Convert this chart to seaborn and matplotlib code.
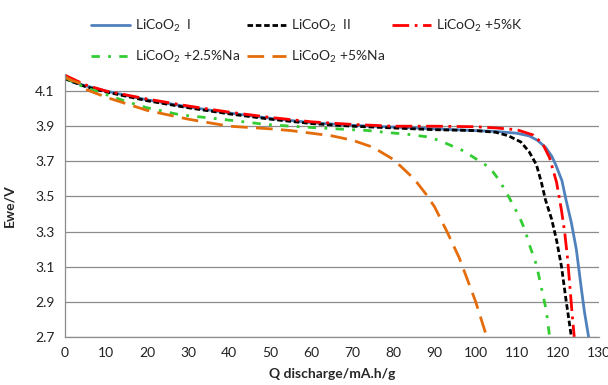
import numpy as np
import pandas as pd
import matplotlib
matplotlib.use("Agg")
import matplotlib.pyplot as plt
import seaborn as sns

# discharge curves (Q in mA.h/g, Ewe in V)
q_I = [0, 2, 5, 10, 20, 30, 40, 50, 60, 70, 80, 90, 100, 105, 110, 113, 115, 117,
       118.5, 119.5, 121, 122, 123.3, 124.5, 125.7, 126.5, 127.5]
v_I = [4.18, 4.15, 4.13, 4.10, 4.05, 4.01, 3.975, 3.945, 3.92, 3.905, 3.895, 3.885,
       3.875, 3.87, 3.86, 3.845, 3.82, 3.78, 3.73, 3.68, 3.59, 3.48, 3.35, 3.20,
       2.98, 2.84, 2.70]

q_II = [0, 5, 10, 20, 30, 40, 50, 60, 70, 80, 90, 100, 105, 108, 111, 113, 114.8,
        116, 117, 118.5, 119.7, 120.9, 122, 123.3]
v_II = [4.17, 4.125, 4.095, 4.045, 4.005, 3.97, 3.94, 3.915, 3.90, 3.89, 3.88,
        3.875, 3.865, 3.845, 3.81, 3.755, 3.68, 3.58, 3.48, 3.37, 3.25, 3.10, 2.91,
        2.70]

q_K = [0, 5, 10, 20, 30, 40, 50, 60, 70, 80, 90, 100, 105, 110, 114, 116.3, 118,
       119.7, 120.9, 121.7, 122.4, 123, 123.6, 124]
v_K = [4.19, 4.135, 4.10, 4.055, 4.015, 3.98, 3.95, 3.925, 3.91, 3.90, 3.90, 3.897,
       3.89, 3.88, 3.85, 3.80, 3.72, 3.58, 3.42, 3.29, 3.14, 2.97, 2.80, 2.70]

q_Na25 = [0, 2, 5, 10, 15, 20, 28, 38, 49, 55, 62, 66, 74, 78, 83, 88, 91, 94, 97,
          99, 101, 103.4, 105.8, 108, 110.7, 112, 113, 114.8, 116, 117.2, 118]
v_Na25 = [4.18, 4.15, 4.12, 4.08, 4.04, 4.005, 3.965, 3.94, 3.91, 3.90, 3.89, 3.885,
          3.875, 3.865, 3.855, 3.84, 3.82, 3.79, 3.76, 3.73, 3.70, 3.665, 3.59, 3.50,
          3.38, 3.31, 3.23, 3.11, 2.98, 2.85, 2.70]

q_Na5 = [0, 1.7, 3.6, 5, 10, 20, 30, 40, 50, 55, 60, 65, 70, 75, 80, 85, 88, 90,
         93, 96, 100, 102.7]
v_Na5 = [4.18, 4.16, 4.145, 4.11, 4.065, 3.99, 3.94, 3.90, 3.885, 3.875, 3.86,
         3.845, 3.82, 3.78, 3.71, 3.60, 3.51, 3.44, 3.30, 3.15, 2.90, 2.70]

labels = ["LiCoO$_2$  I", "LiCoO$_2$  II", "LiCoO$_2$ +5%K",
          "LiCoO$_2$ +2.5%Na", "LiCoO$_2$ +5%Na"]
series = [(q_I, v_I), (q_II, v_II), (q_K, v_K), (q_Na25, v_Na25), (q_Na5, v_Na5)]
colors = ["#4F81BD", "#000000", "#FF0000", "#33CC33", "#E46C0A"]
styles = ["-", (0, (2, 1)), (0, (6, 2, 1, 2)), (0, (3, 3, 1, 3)), (0, (6, 3))]

sns.set_style("white")
plt.rcParams["font.family"] = ["Lato", "DejaVu Sans"]
plt.rcParams["mathtext.default"] = "regular"

fig = plt.figure(figsize=(6.08, 3.85), dpi=100)
ax = fig.add_axes([0.107, 0.125, 0.878, 0.684])

for (q, v), lab, c, ls in zip(series, labels, colors, styles):
    df = pd.DataFrame({"q": q, "v": v})
    sns.lineplot(data=df, x="q", y="v", ax=ax, color=c, linestyle=ls, lw=2,
                 label=lab, estimator=None, sort=False)

ax.set_xlim(0, 130)
ax.set_ylim(2.7, 4.2)
ax.set_xticks(np.arange(0, 131, 10))
ax.set_yticks([2.7, 2.9, 3.1, 3.3, 3.5, 3.7, 3.9, 4.1])
ax.set_yticklabels(["2.7", "2.9", "3.1", "3.3", "3.5", "3.7", "3.9", "4.1"])
ax.grid(axis="y", color="#8c8c8c", lw=0.9)
ax.set_axisbelow(True)
for s in ["top", "right"]:
    ax.spines[s].set_visible(False)
for s in ["left", "bottom"]:
    ax.spines[s].set_color("#8c8c8c")
    ax.spines[s].set_linewidth(0.9)
ax.tick_params(axis="both", direction="out", length=4, color="#8c8c8c",
               labelsize=10, labelcolor="#222222", width=0.9)
ax.set_xlabel("Q discharge/mA.h/g", fontsize=10, fontweight="bold", labelpad=6)
ax.set_ylabel("Ewe/V", fontsize=10, fontweight="bold", labelpad=14)

h, l = ax.get_legend_handles_labels()
ax.get_legend().remove()
order = [0, 3, 1, 4, 2]
fig.legend([h[i] for i in order], [l[i] for i in order], loc="upper center",
           bbox_to_anchor=(0.505, 0.985), ncol=3, frameon=False, fontsize=10,
           handlelength=2.8, handletextpad=0.35, columnspacing=0.5,
           labelspacing=1.05)

fig.savefig("out.png", dpi=100)
